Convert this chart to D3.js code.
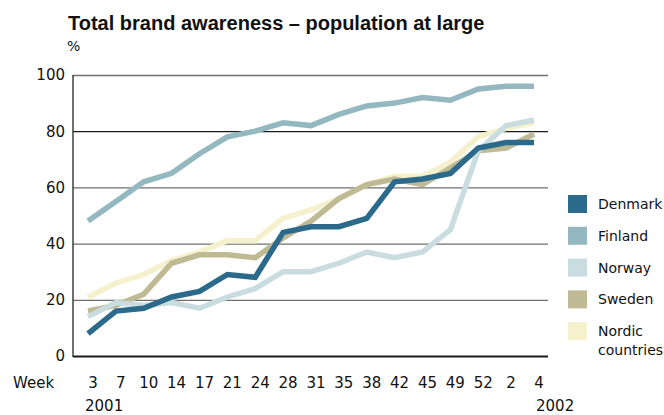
<!DOCTYPE html>
<html>
<head>
<meta charset="utf-8">
<script src="https://cdn.jsdelivr.net/npm/d3@7"></script>
<style>
  html, body { margin: 0; padding: 0; background: #fff; }
  svg { display: block; }
  text { font-family: "DejaVu Sans", sans-serif; fill: #111; }
</style>
</head>
<body>
<svg id="chart" width="664" height="415"></svg>
<script>
// Survey weeks (2001 week 3 through 2002 week 4)
const weeks = ["3", "7", "10", "14", "17", "21", "24", "28", "31", "35", "38", "42", "45", "49", "52", "2", "4"];
const yTicks = [0, 20, 40, 60, 80, 100];

// Total brand awareness, %
const denmark = [8, 16, 17, 21, 23, 29, 28, 44, 46, 46, 49, 62, 63, 65, 74, 76, 76];
const finland = [48, 55, 62, 65, 72, 78, 80, 83, 82, 86, 89, 90, 92, 91, 95, 96, 96];
const norway  = [14, 19, 18, 19, 17, 21, 24, 30, 30, 33, 37, 35, 37, 45, 73, 82, 84];
const sweden  = [16, 18, 22, 33, 36, 36, 35, 42, 48, 56, 61, 63, 61, 67, 73, 74, 79];
const nordic  = [21, 26, 29, 34, 37, 41, 41, 49, 52, 56, 61, 64, 64, 69, 78, 81, 83];

const seriesNames = ["Denmark", "Finland", "Norway", "Sweden", "Nordic countries"];
const seriesValues = [denmark, finland, norway, sweden, nordic];
const seriesColors = ["#2b6a8b", "#93b8c0", "#c9dde1", "#bfba94", "#f5f1cd"];
// paint order, back to front
const drawOrder = [4, 3, 2, 1, 0];

const svg = d3.select("#chart");

const plot = { left: 73, right: 548, top: 75, bottom: 356 };

const x = d3.scalePoint().domain(d3.range(weeks.length)).range([88, 534]);
const y = d3.scaleLinear().domain([0, 100]).range([plot.bottom, plot.top]);

// Title and unit
svg.append("text")
  .attr("x", 68).attr("y", 30)
  .style("font-family", "'Liberation Sans', Arial, sans-serif")
  .style("font-weight", "bold").style("font-size", "20px")
  .text("Total brand awareness – population at large");

svg.append("text")
  .attr("x", 67).attr("y", 51)
  .style("font-size", "14px")
  .text("%");

// Horizontal grid with value labels
const yAxis = d3.axisLeft(y).tickValues(yTicks).tickSize(-(plot.right - plot.left)).tickPadding(8);
const gy = svg.append("g").attr("transform", `translate(${plot.left},0)`).call(yAxis);
gy.select(".domain").remove();
gy.selectAll(".tick line")
  .attr("stroke", d => (d === 0 || d === 80) ? "#1a1a1a" : "#6f6f6f")
  .attr("stroke-width", d => d === 0 ? 1.8 : 1.3);
gy.selectAll(".tick text")
  .attr("x", -8)
  .style("font-size", "15px")
  .style("font-family", "'DejaVu Sans', sans-serif")
  .attr("fill", "#111");

// Left axis line
svg.append("line")
  .attr("x1", plot.left).attr("x2", plot.left)
  .attr("y1", y(100)).attr("y2", y(0) + 0.9)
  .attr("stroke", "#222").attr("stroke-width", 1.3);

// Week labels
const xAxis = d3.axisBottom(x).tickFormat(i => weeks[i]).tickSize(0).tickPadding(0);
const gx = svg.append("g").attr("transform", "translate(4.5,388)").call(xAxis);
gx.select(".domain").remove();
gx.selectAll(".tick text")
  .attr("dy", 0).attr("y", 0)
  .style("font-size", "15px")
  .style("font-family", "'DejaVu Sans', sans-serif")
  .attr("fill", "#111");

svg.append("text").attr("x", 13).attr("y", 388).style("font-size", "15px").text("Week");
svg.append("text").attr("x", 85).attr("y", 411).style("font-size", "15px").text("2001");
svg.append("text").attr("x", 536).attr("y", 411).style("font-size", "15px").text("2002");

// Series lines
const line = d3.line().x((d, i) => x(i)).y(d => y(d));
drawOrder.forEach(k => {
  svg.append("path")
    .datum(seriesValues[k])
    .attr("d", line)
    .attr("fill", "none")
    .attr("stroke", seriesColors[k])
    .attr("stroke-width", 5.5)
    .attr("stroke-linejoin", "miter")
    .attr("stroke-linecap", "butt");
});

// Legend
const legend = svg.append("g").attr("transform", "translate(568,195)");
seriesNames.forEach((name, k) => {
  const g = legend.append("g").attr("transform", `translate(0,${k * 31.8})`);
  g.append("rect").attr("width", 19).attr("height", 18).attr("fill", seriesColors[k]);
  const words = name === "Nordic countries" ? ["Nordic", "countries"] : [name];
  words.forEach((w, j) => {
    g.append("text")
      .attr("x", 30).attr("y", 14 + j * 19)
      .style("font-size", "14px")
      .text(w);
  });
});
</script>
</body>
</html>
